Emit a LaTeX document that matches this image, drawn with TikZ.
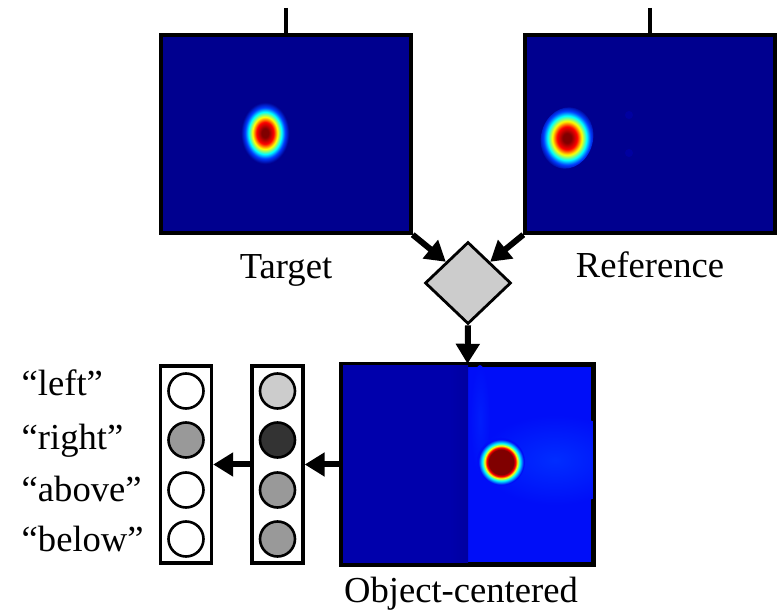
\documentclass[tikz,border=0pt]{standalone}
\usepackage{fontspec}
\setmainfont{Liberation Serif}
\usetikzlibrary{arrows.meta}
\usetikzlibrary{shapes.geometric}
\definecolor{navy1}{RGB}{0,0,143}
\definecolor{blue1}{RGB}{0,0,172}
\definecolor{blue2}{RGB}{0,14,248}
\definecolor{blue3}{RGB}{0,60,255}
\definecolor{blue4}{RGB}{0,0,160}
\definecolor{blue5}{RGB}{0,45,255}
\definecolor{darkred1}{RGB}{128,0,0}
\definecolor{gray1}{RGB}{204,204,204}
\definecolor{gray2}{RGB}{153,153,153}
\definecolor{gray3}{RGB}{51,51,51}
% jet coloured spots (path edge sits at 25bp)
\pgfdeclareradialshading{spotA}{\pgfpoint{0bp}{0bp}}{color(0bp)=(darkred1); color(3.5bp)=(darkred1);
  color(8.5bp)=(red); color(12.5bp)=(yellow); color(16.5bp)=(cyan); color(20bp)=(blue3);
  color(24bp)=(navy1); color(50bp)=(navy1)}
\pgfdeclareradialshading{spotB}{\pgfpoint{0bp}{0bp}}{color(0bp)=(darkred1); color(13bp)=(darkred1);
  color(15bp)=(red); color(17bp)=(yellow); color(19.5bp)=(cyan); color(23.5bp)=(blue2);
  color(50bp)=(blue2)}

\begin{document}
\begin{tikzpicture}[x=0.5pt, y=-0.5pt, line width=1.7pt,
  >={Triangle[length=10pt,width=11.5pt]},
  panel/.style={rectangle, draw, inner sep=0pt, minimum width=125pt, minimum height=99pt},
  combine/.style={diamond, draw, fill=gray1, line width=1.4pt, inner sep=0pt,
    minimum width=43pt, minimum height=41pt},
  column/.style={rectangle, draw, inner sep=0pt, minimum width=25.5pt, minimum height=98.5pt},
  unit/.style={circle, draw, line width=1.3pt, inner sep=0pt, minimum size=17.5pt},
  flow/.style={line width=3pt, ->},
  lbl/.style={anchor=base, inner sep=0pt, font=\fontsize{18.3}{22}\selectfont},
  word/.style={anchor=base west, inner sep=0pt, font=\fontsize{18.3}{22}\selectfont}]
  \useasboundingbox (0,0) rectangle (781,613);

  % input maps
  \node[panel, fill=navy1] (tgt) at (286,134) {};
  \node[panel, fill=navy1] (ref) at (650,134) {};
  \shade[shading=spotA] (265,133) ellipse [x radius=25, y radius=32];
  \shade[shading=spotA, rotate around={-15:(567,138)}] (567,138) ellipse [x radius=26, y radius=31];
  \fill[blue4] (629,115) circle (4);
  \fill[blue4] (629,153) circle (4);
  \coordinate (tgtin) at (286,8);
  \coordinate (refin) at (650,8);
  \draw (tgtin) -- (tgt.north);
  \draw (refin) -- (ref.north);
  \node[lbl] (tgtlbl) at (286,279) {Target};
  \node[lbl] (reflbl) at (650,278) {Reference};

  \node[combine] (cmp) at (468,283) {};

  % object-centered map
  \node[panel, fill=blue2] (obj) at (467.5,464.5) {};
  \begin{scope}
    \clip (obj.north west) rectangle (obj.south east);
    \fill[blue1] (obj.north west) rectangle (468,563);
    \shade[left color=blue1, right color=blue4] (450,366) rectangle (468,563);
    \shade[inner color=blue5, outer color=blue2] (555,460) ellipse [x radius=75, y radius=45];
    \shade[inner color=blue5!50!blue2, outer color=blue2] (480,420) ellipse [x radius=10, y radius=55];
    \shade[shading=spotB] (501,462) circle (24);
  \end{scope}
  \draw (obj.north west) rectangle (obj.south east);
  \node[lbl] (objlbl) at (461,603) {Object-centered};

  % output units
  \node[column] (hid) at (277.5,464.5) {};
  \node[column] (out) at (186,464.5) {};
  \foreach \y/\c in {391/gray1, 440/gray3, 490/gray2, 539/gray2}
    \node[unit, fill=\c] (h\y) at (277.5,\y) {};
  \foreach \y/\c in {391/white, 440/gray2, 490/white, 539/white}
    \node[unit, fill=\c] (o\y) at (186,\y) {};
  \node[word] (w1) at (20,396) {``left''};
  \node[word] (w2) at (20,450) {``right''};
  \node[word] (w3) at (20,502) {``above''};
  \node[word] (w4) at (20,552) {``below''};

  \draw[flow] (tgt.south east) -- (cmp.north west);
  \draw[flow] (ref.south west) -- (cmp.north east);
  \draw[flow] (cmp.south) -- (obj.north);
  \draw[flow] (obj.west) -- (hid.east);
  \draw[flow] (hid.west) -- (out.east);
\end{tikzpicture}
\end{document}
